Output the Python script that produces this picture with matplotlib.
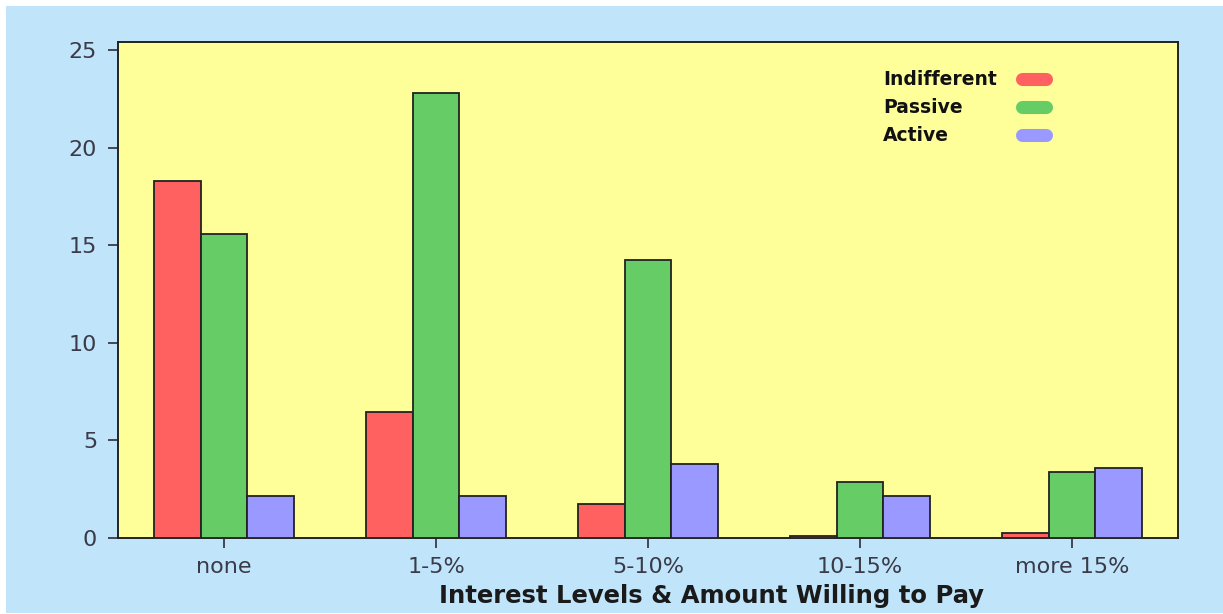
import matplotlib
matplotlib.use("Agg")
import matplotlib.pyplot as plt
import numpy as np
from matplotlib.patches import Rectangle
from matplotlib.lines import Line2D

categories = ["none", "1-5%", "5-10%", "10-15%", "more 15%"]
series_names = ["Indifferent", "Passive", "Active"]
indifferent = [18.3, 6.45, 1.75, 0.1, 0.25]
passive = [15.6, 22.8, 14.25, 2.85, 3.4]
active = [2.15, 2.15, 3.8, 2.15, 3.6]
yticks = [0, 5, 10, 15, 20, 25]
xlabel = "Interest Levels & Amount Willing to Pay"

colors = ["#ff6060", "#66cc66", "#9999ff"]
bg_blue = "#c0e4fa"
plot_yellow = "#ffff99"
tick_color = "#3a3a48"

W, H = 1223, 614
fig = plt.figure(figsize=(W / 100, H / 100), dpi=100, facecolor="white")
# blue panel with thin white margin at top/left/bottom
fig.patches.append(Rectangle((6 / W, 1 / H), 1 - 6 / W, (H - 7) / H,
                             transform=fig.transFigure, facecolor=bg_blue,
                             edgecolor="none", zorder=-10))

ax_l, ax_r, ax_top, ax_bot = 118, 1178, 41.7, 538
ax = fig.add_axes([ax_l / W, (H - ax_bot) / H, (ax_r - ax_l) / W, (ax_bot - ax_top) / H])
ax.set_zorder(1)
ax.set_facecolor(plot_yellow)

x = np.arange(len(categories))
bw = 0.22
for i, (vals, c) in enumerate(zip([indifferent, passive, active], colors)):
    ax.bar(x + (i - 1) * bw, vals, width=bw, color=c, edgecolor="#222222",
           linewidth=1.3, zorder=3)

ax.set_xlim(-0.5, 4.5)
ax.set_ylim(0, 25.45)
ax.set_xticks(x)
ax.set_xticklabels(categories)
ax.set_yticks(yticks)
for sp in ax.spines.values():
    sp.set_color("#222222")
    sp.set_linewidth(1.4)

ax.tick_params(axis="both", colors=tick_color, labelsize=16, length=7, width=1.3)
ax.tick_params(axis="y", pad=8)
ax.tick_params(axis="x", pad=7)
for lab in ax.get_xticklabels() + ax.get_yticklabels():
    lab.set_color(tick_color)

ax.set_xlabel(xlabel, fontsize=17.5, fontweight="bold", color="#1a1a1a",
              x=0.56, labelpad=5)

# legend: labels left-aligned, pill-shaped swatches on the right
rows_y = [0.9248, 0.8684, 0.8120]
for name, c, yy in zip(series_names, colors, rows_y):
    ax.text(0.7217, yy, name, transform=ax.transAxes, fontsize=13.5,
            fontweight="bold", color="#111111", va="center", ha="left", zorder=5)
    ax.add_line(Line2D([0.8524, 0.8759], [yy, yy], transform=ax.transAxes,
                       color=c, linewidth=9.4, solid_capstyle="round", zorder=5))

fig.savefig("out.png", dpi=100, facecolor=fig.get_facecolor())
